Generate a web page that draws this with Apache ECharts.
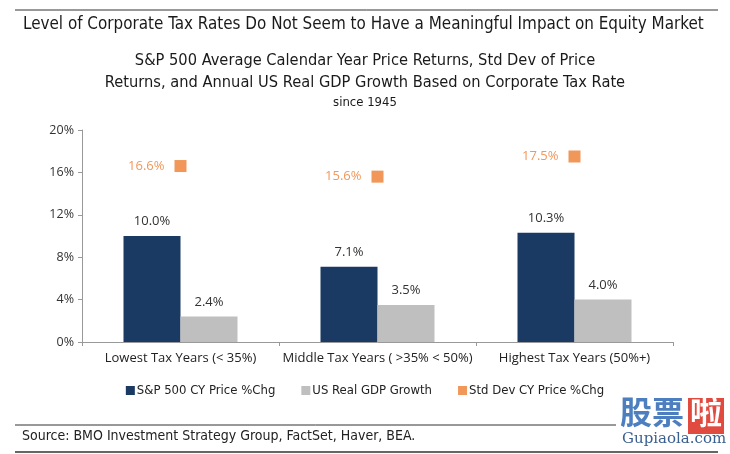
<!DOCTYPE html>
<html><head><meta charset="utf-8">
<script src="https://cdn.jsdelivr.net/npm/echarts@6/dist/echarts.min.js"></script>
<style>html,body{margin:0;padding:0;background:#fff}#c{width:730px;height:454px}</style>
</head><body><div id="c"></div>
<script>
const categories = ['Lowest Tax Years (< 35%)', 'Middle Tax Years ( >35% < 50%)', 'Highest Tax Years (50%+)'];
const sp500 = [10.0, 7.1, 10.3];
const gdp = [2.4, 3.5, 4.0];
const stdDev = [16.6, 15.6, 17.5];
const yTicks = [0, 4, 8, 12, 16, 20];

const NARROW = '"DejaVu Sans Condensed","Liberation Sans Narrow",sans-serif';
const LBL = '"Open Sans","Noto Sans",sans-serif';
const chart = echarts.init(document.getElementById('c'));
chart.setOption({
  backgroundColor: '#fff',
  animation: false,
  title: [
    {text: 'Level of Corporate Tax Rates Do Not Seem to Have a Meaningful Impact on Equity Market', left: 18, top: 11,
     textStyle: {fontFamily: NARROW, fontSize: 16.9, fontWeight: 'normal', color: '#1a1a1a'}},
    {text: 'S&P 500 Average Calendar Year Price Returns, Std Dev of Price\nReturns, and Annual US Real GDP Growth Based on Corporate Tax Rate',
     left: 'center', top: 45,
     textStyle: {fontFamily: NARROW, fontSize: 16.3, fontWeight: 'normal', color: '#1a1a1a', lineHeight: 22}},
    {text: 'since 1945', left: 'center', top: 91,
     textStyle: {fontFamily: NARROW, fontSize: 13, fontWeight: 'normal', color: '#1a1a1a'}}
  ],
  graphic: [
    {type: 'line', shape: {x1: 15, y1: 10, x2: 718, y2: 10}, style: {stroke: '#333', lineWidth: 1}},
    {type: 'line', shape: {x1: 15, y1: 425, x2: 616, y2: 425}, style: {stroke: '#333', lineWidth: 1}},
    {type: 'line', shape: {x1: 15, y1: 452, x2: 718, y2: 452}, style: {stroke: '#333', lineWidth: 1.5}},
    {type: 'text', left: 22, top: 429, style: {text: 'Source: BMO Investment Strategy Group, FactSet, Haver, BEA.', font: '14px ' + NARROW, fill: '#222'}},
    {type: 'text', left: 620, top: 396, style: {text: '股票', font: 'bold 32px "Noto Sans CJK SC"', fill: '#4d7fc0'}},
    {type: 'rect', shape: {x: 688, y: 398, width: 36, height: 36}, style: {fill: '#e04a3f'}},
    {type: 'text', left: 690, top: 396, style: {text: '啦', font: 'bold 32px "Noto Sans CJK SC"', fill: '#fff'}},
    {type: 'text', left: 622, top: 432, style: {text: 'Gupiaola.com', font: '15px "DejaVu Serif",serif', fill: '#3a5f8f'}}
  ],
  legend: {
    bottom: 52, left: 'center', itemWidth: 9, itemHeight: 9, itemGap: 26,
    icon: 'rect',
    textStyle: {fontFamily: NARROW, fontSize: 13, color: '#222', padding: [0,0,0,-3]},
    data: ['S&P 500 CY Price %Chg', 'US Real GDP Growth', 'Std Dev CY Price %Chg']
  },
  grid: {left: 82, right: 57, top: 130, bottom: 112},
  xAxis: {
    type: 'category', data: categories,
    axisLine: {lineStyle: {color: '#999'}},
    axisTick: {show: true, length: 4, lineStyle: {color: '#999'}},
    axisLabel: {interval: 0, fontFamily: LBL, fontSize: 13, color: '#222', margin: 10}
  },
  yAxis: {
    type: 'value', min: 0, max: 20, interval: 4,
    axisLine: {show: true, lineStyle: {color: '#999'}},
    axisTick: {show: true, length: 4, lineStyle: {color: '#999'}},
    splitLine: {show: false},
    axisLabel: {formatter: '{value}%', fontFamily: LBL, fontSize: 12.5, color: '#333', margin: 8}
  },
  series: [
    {name: 'S&P 500 CY Price %Chg', type: 'bar', data: sp500, barWidth: 57, barGap: '0%',
     itemStyle: {color: '#1b3a63'},
     label: {show: true, position: 'top', distance: 8, formatter: p => p.value.toFixed(1) + '%', fontFamily: LBL, fontSize: 13, color: '#333'}},
    {name: 'US Real GDP Growth', type: 'bar', data: gdp, barWidth: 57,
     itemStyle: {color: '#bfbfbf'},
     label: {show: true, position: 'top', distance: 8, formatter: p => p.value.toFixed(1) + '%', fontFamily: LBL, fontSize: 13, color: '#333'}},
    {name: 'Std Dev CY Price %Chg', type: 'scatter', data: stdDev, symbol: 'rect', symbolSize: 12,
     itemStyle: {color: '#ed7d31'},
     label: {show: true, position: 'left', distance: 10, formatter: p => p.value.toFixed(1) + '%', fontFamily: LBL, fontSize: 13, color: '#ed7d31'}}
  ]
});
</script></body></html>
